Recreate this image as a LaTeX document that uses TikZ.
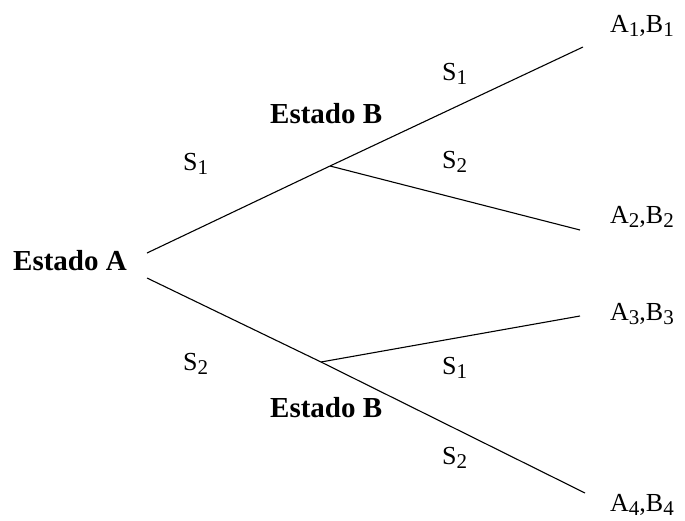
\documentclass[tikz,border=0pt]{standalone}
\usepackage{fontspec}
\setmainfont{Liberation Serif}
\usetikzlibrary{positioning}
\newcommand{\lowsub}[1]{\raisebox{-4.5pt}{\fontsize{21}{22}\selectfont#1}}

\begin{document}
\begin{tikzpicture}[
  x=1pt, y=-1pt,
  stlabel/.style={anchor=base west, inner sep=0pt, font=\fontsize{26}{30}\selectfont},
  statename/.style={anchor=base west, inner sep=0pt, font=\fontsize{29}{34}\selectfont\bfseries},
  branch/.style={line width=1.1pt, draw=black}
]
\useasboundingbox (0,0) rectangle (685,520);

% states and outcomes
\node[statename] (sa)  at (13,270)  {Estado A};
\node[statename] (sb1) at (270,123) {Estado B};
\node[statename] (sb2) at (270,417) {Estado B};

\node[stlabel] (o1) at (610,32)  {A\lowsub{1},B\lowsub{1}};
\node[stlabel] (o2) at (610,223) {A\lowsub{2},B\lowsub{2}};
\node[stlabel] (o3) at (610,320) {A\lowsub{3},B\lowsub{3}};
\node[stlabel] (o4) at (610,511) {A\lowsub{4},B\lowsub{4}};

% strategy labels
\node[stlabel] (sa1) at (183,170) {S\lowsub{1}};
\node[stlabel] (sa2) at (183,370) {S\lowsub{2}};
\node[stlabel] (sb11) at (442,80)  {S\lowsub{1}};
\node[stlabel] (sb12) at (442,168) {S\lowsub{2}};
\node[stlabel] (sb21) at (442,374) {S\lowsub{1}};
\node[stlabel] (sb22) at (442,464) {S\lowsub{2}};

% branch points
\coordinate (up0) at (147,253);
\coordinate (lo0) at (147,278);
\coordinate (j1)  at (330,166);
\coordinate (j2)  at (321,362);
\coordinate (e1)  at (583,47);
\coordinate (e2)  at (580,230);
\coordinate (e3)  at (580,316);
\coordinate (e4)  at (585,493);

\draw[branch] (up0) -- (j1) -- (e1);
\draw[branch] (j1) -- (e2);
\draw[branch] (lo0) -- (j2) -- (e4);
\draw[branch] (j2) -- (e3);
\end{tikzpicture}
\end{document}
